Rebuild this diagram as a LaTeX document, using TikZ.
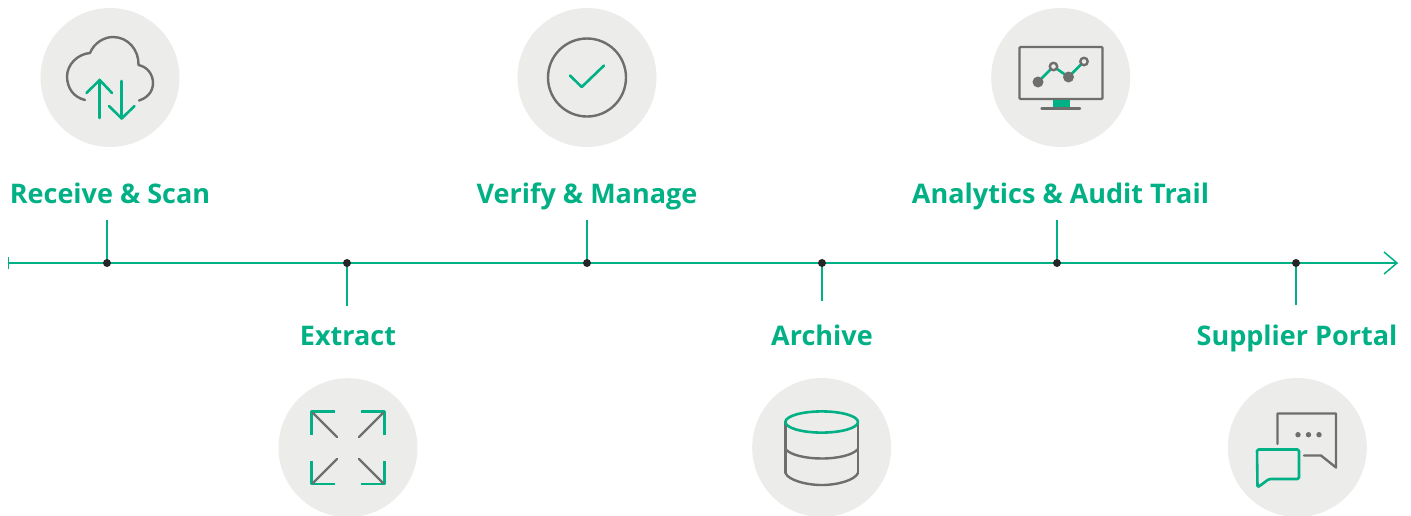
\documentclass[tikz,border=0pt]{standalone}
\usepackage{fontspec}
\setmainfont{Open Sans}
\pgfdeclarelayer{back}
\pgfsetlayers{back,main}
\definecolor{hgreen}{HTML}{01B084}
\definecolor{hgrey}{HTML}{6E6E6C}
\definecolor{hdisc}{HTML}{ECECEA}
\tikzset{
  x=1pt,y=-1pt,
  disc/.style={circle,fill=hdisc,draw=none,minimum size=139pt,inner sep=0pt},
  lbl/.style={text=hgreen,font=\fontsize{27}{30}\selectfont\bfseries,inner sep=0pt,anchor=base},
  dotn/.style={circle,fill=black!85,minimum size=8pt,inner sep=0pt},
  tl/.style={draw=hgreen,line width=1.5pt},
  gl/.style={draw=hgrey,line width=2.4pt,line cap=round,line join=round},
  gn/.style={draw=hgreen,line width=2.6pt,line cap=round,line join=round},
}
\begin{document}
\begin{tikzpicture}
\useasboundingbox (0,0) rectangle (1411,515);
\clip (0,0) rectangle (1411,515);
% discs
\node[disc] (d1) at (110,77.5) {};
\node[disc] (d2) at (348,447.7) {};
\node[disc] (d3) at (587,77.5) {};
\node[disc] (d4) at (821.7,447.5) {};
\node[disc] (d5) at (1060.7,77.5) {};
\node[disc] (d6) at (1297.3,447.5) {};
% timeline
\coordinate (tS) at (8.7,263);
\coordinate (tE) at (1397,263);
\node[dotn] (p1) at (107,263) {};
\node[dotn] (p2) at (347,263) {};
\node[dotn] (p3) at (587,263) {};
\node[dotn] (p4) at (822,263) {};
\node[dotn] (p5) at (1057,263) {};
\node[dotn] (p6) at (1296,263) {};
\coordinate (tSa) at (8.7,257);
\coordinate (tSb) at (8.7,269);
\coordinate (tEa) at (1384,252);
\coordinate (tEb) at (1384,274);
\coordinate (e1) at (107,220);
\coordinate (e2) at (347,306);
\coordinate (e3) at (587,220);
\coordinate (e4) at (822,301);
\coordinate (e5) at (1057,220);
\coordinate (e6) at (1296,305);
\begin{pgfonlayer}{back}
\draw[tl] (tS) -- (tE);
\draw[tl] (tSa) -- (tSb);
\draw[tl,line join=miter] (tEa) -- (tE) -- (tEb);
\draw[tl] (p1.center) -- (e1);
\draw[tl] (p2.center) -- (e2);
\draw[tl] (p3.center) -- (e3);
\draw[tl] (p4.center) -- (e4);
\draw[tl] (p5.center) -- (e5);
\draw[tl] (p6.center) -- (e6);
\end{pgfonlayer}
% labels
\node[lbl] (l1) at (110,203) {Receive \& Scan};
\node[lbl] (l2) at (348,345) {Extract};
\node[lbl] (l3) at (587,203) {Verify \& Manage};
\node[lbl] (l4) at (822,345) {Archive};
\node[lbl] (l5) at (1060.5,203) {Analytics \& Audit Trail};
\node[lbl] (l6) at (1297,345) {Supplier Portal};
% cloud icon
\draw[gl] (85,100) .. controls (73,97) and (67.5,88) .. (67,77) .. controls (67,64) and (78,54) .. (90,53)
  .. controls (94,43) and (104,37) .. (113,37) .. controls (128,37) and (139,50) .. (138.5,65)
  .. controls (148,67) and (153,75) .. (153,83) .. controls (153,92) and (147,98) .. (139,100.5);
\draw[gn] (99.7,118) -- (99.7,80);
\draw[gn] (86.5,93) -- (99.7,80) -- (112,93);
\draw[gn] (121.7,81) -- (121.7,118.5);
\draw[gn] (109,106) -- (121.7,118.5) -- (134.5,106);
% expand icon
\draw[gn,line cap=butt] (335,411.5) -- (311.7,411.5) -- (311.7,434.5);
\draw[gn,line cap=butt] (361,411.5) -- (384.5,411.5) -- (384.5,434.5);
\draw[gn,line cap=butt] (311.7,461) -- (311.7,484) -- (335,484);
\draw[gn,line cap=butt] (361,484) -- (384.5,484) -- (384.5,461);
\draw[gl] (313,413) -- (337,437);
\draw[gl] (383,413) -- (359,437);
\draw[gl] (313,483) -- (337,459);
\draw[gl] (383,483) -- (359,459);
% check icon
\draw[gl] (587,77.5) circle (39pt);
\draw[gn] (570,75.5) -- (581.7,87) -- (604,65.5);
% database icon
\draw[gl] (785.5,421.5) -- (785.5,473);
\draw[gl] (858,421.5) -- (858,473);
\draw[gl] (785.5,449) .. controls (790,455) and (806,458.5) .. (821.7,458.5) .. controls (838,458.5) and (853,455) .. (858,449);
\draw[gl] (785.5,473) .. controls (788,480) and (806,485) .. (821.7,485) .. controls (838,485) and (855,480) .. (858,473);
\draw[gn] (821.7,422) ellipse (36.3pt and 10.6pt);
% monitor icon
\draw[gn] (1038,82) -- (1053.5,66.5) -- (1068.5,77) -- (1084,61.5);
\draw[gl,rounded corners=1pt] (1019.5,47) rectangle (1102.5,99);
\fill[hgreen] (1052.5,100) rectangle (1069.5,107);
\draw[gl] (1041.5,108.5) -- (1080,108.5);
\fill[hgrey] (1038,82) circle (5.5pt) (1068.5,77) circle (5.5pt);
\draw[draw=hgrey,fill=hdisc,line width=2.4pt] (1053.5,66.5) circle (3.7pt) (1084,61.5) circle (3.7pt);
% chat icon
\draw[gl] (1277.5,444) -- (1277.5,413.5) -- (1336,413.5) -- (1336,467.5) -- (1321,455.5) -- (1304,455.5);
\fill[hgrey] (1298,434.7) circle (2.7pt) (1308.5,434.7) circle (2.7pt) (1319,434.7) circle (2.7pt);
\draw[gn,rounded corners=1.5pt] (1257,449.5) -- (1299,449.5) -- (1299,479) -- (1269,479) -- (1257.5,487.5) -- cycle;
\end{tikzpicture}
\end{document}
